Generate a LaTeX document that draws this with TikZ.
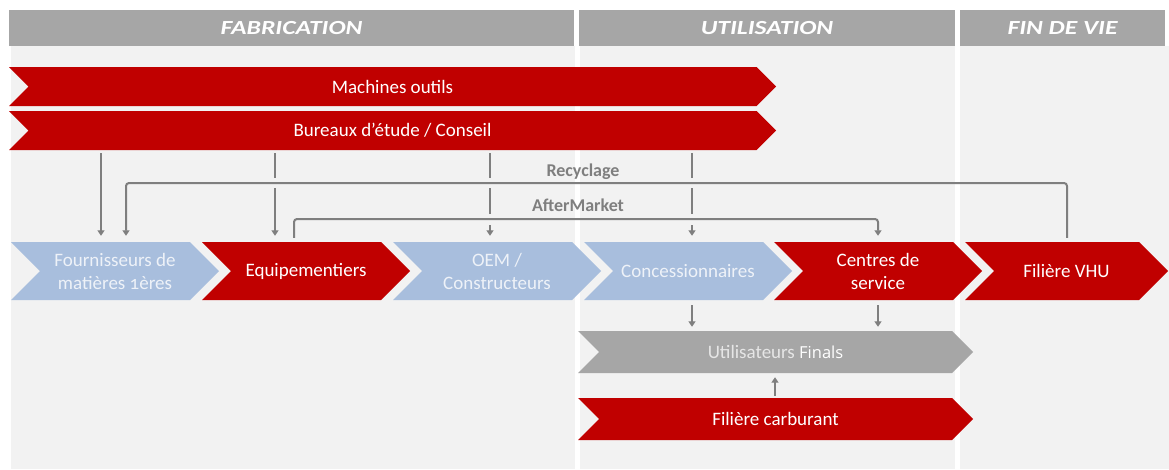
\documentclass[tikz,border=0pt]{standalone}
\usepackage{fontspec}
\usepackage{graphicx}
\setmainfont{Carlito}
\newfontfamily\osfont{Open Sans}
\usetikzlibrary{arrows.meta}
\definecolor{cred}{HTML}{C00000}
\definecolor{cblue}{HTML}{A8BEDD}
\definecolor{cgray}{HTML}{A6A6A6}
\definecolor{cpanel}{HTML}{F2F2F2}
\definecolor{lgray}{HTML}{7F7F7F}
\definecolor{btext}{HTML}{EEF2F8}
\definecolor{utext}{HTML}{E6E6E6}
\tikzset{
  ln/.style={draw=lgray, line width=2pt},
  arr/.style={ln, -{Triangle[width=7pt,length=5.5pt]}},
  bartext/.style={font=\fontsize{19}{23}\selectfont, text=white, align=center},
  bluetext/.style={font=\fontsize{19}{23}\selectfont, text=btext, align=center},
  grtext/.style={font=\fontsize{19}{23}\selectfont, text=utext, align=center},
  redfill/.style={fill=cred},
  bluefill/.style={fill=cblue},
  grayfill/.style={fill=cgray},
  hdr/.style={fill=cgray, inner sep=0pt, font=\fontsize{20}{23}\selectfont\bfseries\itshape, text=white},
  lbl/.style={font=\fontsize{18}{22}\selectfont\bfseries, text=lgray, inner sep=0pt},
  panel/.style={fill=cpanel}
}
\newcommand\mychev[7]{%
  \fill[#6] (#2,#3) -- ({#4-(#5-#3)/2},#3) -- (#4,{(#3+#5)/2}) -- ({#4-(#5-#3)/2},#5) -- (#2,#5) -- ({#2+(#5-#3)/2},{(#3+#5)/2}) -- cycle;
  \node[inner sep=0pt, minimum width={#4-#2}, minimum height={#5-#3}, #7] (#1) at ({(#2+#4)/2},{(#3+#5)/2})}
\begin{document}
\begin{tikzpicture}[x=1pt,y=-1pt]
\useasboundingbox (0,0) rectangle (1169,469);
\fill[white] (0,0) rectangle (1169,469);
% panels
\fill[panel] (11,46) rectangle (575,469);
\fill[panel] (580,46) rectangle (955,469);
\fill[panel] (960,46) rectangle (1169,469);
% headers
\node[hdr, minimum width=565pt, minimum height=36pt] (hf) at (291.5,28) {\scalebox{1.28}[1]{FABRICATION}};
\node[hdr, minimum width=376pt, minimum height=36pt] (hu) at (767,28) {\scalebox{1.28}[1]{UTILISATION}};
\node[hdr, minimum width=205pt, minimum height=36pt] (hv) at (1062.5,28) {\scalebox{1.28}[1]{FIN DE VIE}};
% top bars
\mychev{mo}{9}{67}{776}{106}{redfill}{bartext} {Machines outils};
\mychev{bu}{9}{111}{776}{150}{redfill}{bartext} {Bureaux d’étude / Conseil};
% chain
\mychev{fo}{11}{242}{219}{300}{bluefill}{bluetext} {Fournisseurs de\\matières {\addfontfeatures{Numbers=OldStyle}1}ères};
\mychev{eq}{202}{242}{410}{300}{redfill}{bartext} {Equipementiers};
\mychev{oem}{393}{242}{601}{300}{bluefill}{bluetext} {OEM /\\Constructeurs};
\mychev{co}{584}{242}{792}{300}{bluefill}{bluetext} {Concessionnaires};
\mychev{cs}{774}{242}{982}{300}{redfill}{bartext} {Centres de\\service};
\mychev{vhu}{965}{242}{1168}{300}{redfill}{bartext} {Filière VHU};
% lower bars
\mychev{ut}{578}{331}{973}{373}{grayfill}{grtext} {Utilisateurs {\osfont\fontsize{16.5}{20}\selectfont\color{white}Finals}};
\mychev{fc}{578}{398}{973}{440}{redfill}{bartext} {Filière carburant};
% labels
\node[lbl] (rec) at (583,172) {Recyclage};
\node[lbl] (aft) at (578,205) {AfterMarket};
% guide coordinates
\coordinate (x1) at (101,0);
\coordinate (x2) at (126,0);
\coordinate (x4) at (275,0);
\coordinate (xa) at (294,0);
\coordinate (x3) at (490,0);
\coordinate (x5) at (692,0);
\coordinate (xc) at (775,0);
\coordinate (xb) at (878,0);
\coordinate (x7) at (1067,0);
\coordinate (rl) at (0,183);
\coordinate (al) at (0,219);
% recycling loop
\draw[arr, rounded corners=3pt] ([yshift=4pt]x7 |- vhu.north) -- (x7 |- rl) -- (x2 |- rl) -- ([yshift=6pt]x2 |- fo.north);
% aftermarket loop
\draw[arr, rounded corners=3pt] ([yshift=4pt]xa |- eq.north) -- (xa |- al) -- (xb |- al) -- ([yshift=6pt]xb |- cs.north);
% Bureaux down arrows
\draw[arr] ([yshift=-3pt]x1 |- bu.south) -- ([yshift=6pt]x1 |- fo.north);
\draw[ln] ([yshift=-3pt]x4 |- bu.south) -- ([yshift=5pt]x4 |- rl);
\draw[arr] ([yshift=-5pt]x4 |- rl) -- ([yshift=6pt]x4 |- eq.north);
\draw[ln] ([yshift=-3pt]x3 |- bu.south) -- ([yshift=5pt]x3 |- rl);
\draw[ln] ([yshift=-5pt]x3 |- rl) -- ([yshift=5pt]x3 |- al);
\draw[arr] ([yshift=-6pt]x3 |- al) -- ([yshift=6pt]x3 |- oem.north);
\draw[ln] ([yshift=-3pt]x5 |- bu.south) -- ([yshift=5pt]x5 |- rl);
\draw[ln] ([yshift=-5pt]x5 |- rl) -- ([yshift=5pt]x5 |- al);
\draw[arr] ([yshift=-6pt]x5 |- al) -- ([yshift=6pt]x5 |- co.north);
% to end users
\draw[arr] ([yshift=-5pt]x5 |- co.south) -- ([yshift=4pt]x5 |- ut.north);
\draw[arr] ([yshift=-5pt]xb |- cs.south) -- ([yshift=4pt]xb |- ut.north);
\draw[arr] ([yshift=2pt]xc |- fc.north) -- ([yshift=-4pt]xc |- ut.south);
\end{tikzpicture}
\end{document}
